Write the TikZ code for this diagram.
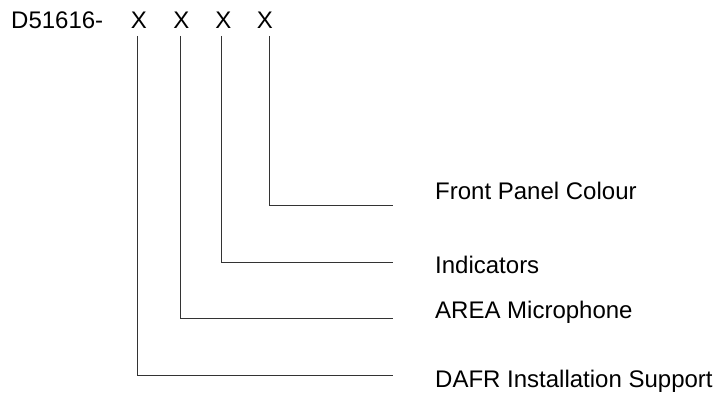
\documentclass[tikz,border=0pt]{standalone}
\usepackage{fontspec}
\setmainfont{Liberation Sans}
\begin{document}
\begin{tikzpicture}[x=1pt,y=1pt,
  txt/.style={inner sep=0pt,font=\fontsize{24}{28}\selectfont},
  lead/.style={line width=1pt,draw=black!80}]
\useasboundingbox (0,0) rectangle (718,-396);
\node[txt,anchor=base west] (code) at (11,-29) {D51616-};
\node[txt,anchor=base] (x1) at (139,-29) {X};
\node[txt,anchor=base] (x2) at (181.5,-29) {X};
\node[txt,anchor=base] (x3) at (223.5,-29) {X};
\node[txt,anchor=base] (x4) at (265,-29) {X};
\coordinate (t1) at (137,-36);
\coordinate (t2) at (180,-36);
\coordinate (t3) at (221,-36);
\coordinate (t4) at (269,-36);
\coordinate (e1) at (393,-375);
\coordinate (e2) at (393,-318);
\coordinate (e3) at (393,-262);
\coordinate (e4) at (393,-205);
\node[txt,anchor=west] (l4) at (435,-191) {Front Panel Colour};
\node[txt,anchor=west] (l3) at (435,-265) {Indicators};
\node[txt,anchor=west] (l2) at (435,-312) {AREA Microphone};
\node[txt,anchor=west] (l1) at (435,-381) {DAFR Installation Support};
\draw[lead] (t1) |- (e1);
\draw[lead] (t2) |- (e2);
\draw[lead] (t3) |- (e3);
\draw[lead] (t4) |- (e4);
\end{tikzpicture}
\end{document}
